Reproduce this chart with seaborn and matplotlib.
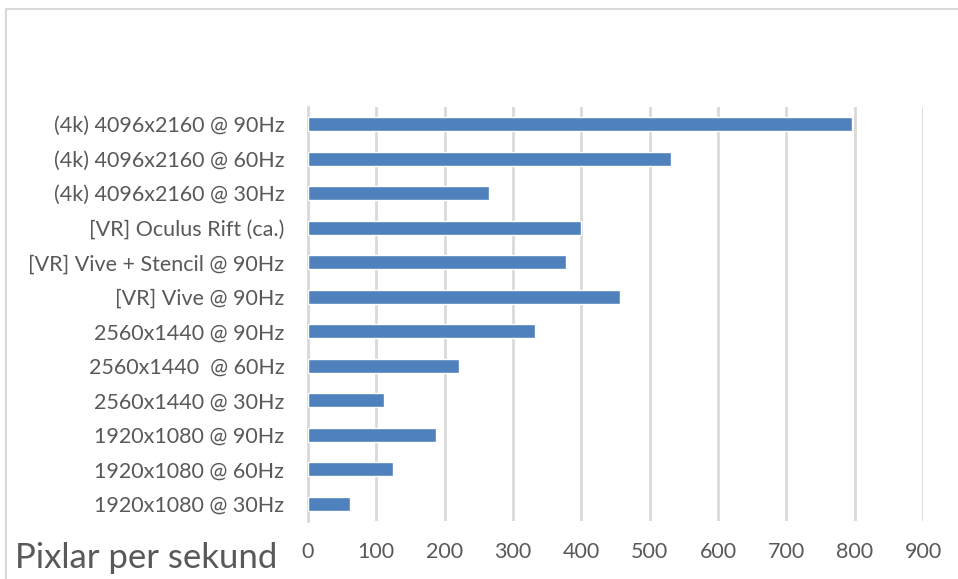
"""Pixel throughput per display mode, horizontal bar chart."""

import matplotlib
matplotlib.use("Agg")
import matplotlib.pyplot as plt
from matplotlib.patches import Rectangle
import pandas as pd
import seaborn as sns

# Modes listed top to bottom as in the chart
modes = [
    "(4k) 4096x2160 @ 90Hz",
    "(4k) 4096x2160 @ 60Hz",
    "(4k) 4096x2160 @ 30Hz",
    "[VR] Oculus Rift (ca.)",
    "[VR] Vive + Stencil @ 90Hz",
    "[VR] Vive @ 90Hz",
    "2560x1440 @ 90Hz",
    "2560x1440  @ 60Hz",
    "2560x1440 @ 30Hz",
    "1920x1080 @ 90Hz",
    "1920x1080 @ 60Hz",
    "1920x1080 @ 30Hz",
]
# million pixels per second
pixels = [796, 531, 265, 400, 378, 457, 332, 221, 111, 187, 124, 62]
x_ticks = [0, 100, 200, 300, 400, 500, 600, 700, 800, 900]

BAR = "#4f81bd"
GRID = "#d9d9d9"
TEXT = "#595959"


def main() -> None:
    sns.set_theme(style="white")
    plt.rcParams["font.family"] = ["Lato", "DejaVu Sans"]

    df = pd.DataFrame({"mode": modes, "pixels": pixels})

    fig = plt.figure(figsize=(9.58, 5.79), dpi=100)
    ax = fig.add_axes([308 / 958, 1 - 521 / 579, 615 / 958, 414 / 579])
    sns.barplot(data=df, y="mode", x="pixels", order=modes, color=BAR,
                saturation=1, width=0.4, ax=ax, zorder=3)

    ax.set_xlim(0, 900)
    ax.set_xticks(x_ticks)
    ax.grid(axis="x", color=GRID, linewidth=2, zorder=0)
    for side in ["top", "right", "bottom"]:
        ax.spines[side].set_visible(False)
    ax.spines["left"].set_color(GRID)
    ax.spines["left"].set_linewidth(2)
    ax.tick_params(axis="both", length=0, colors=TEXT, labelsize=15.5)
    ax.tick_params(axis="x", pad=15)
    ax.tick_params(axis="y", pad=17)
    ax.set_xlabel("")
    ax.set_ylabel("")

    fig.text(15 / 958, 1 - 568 / 579, "Pixlar per sekund", fontsize=25,
             color=TEXT, ha="left", va="baseline")

    # light chart-area border, cut off at the right and bottom edges
    fig.patches.append(Rectangle((5.5 / 958, -0.05), 1.1, 1.05 - 8.5 / 579,
                                 transform=fig.transFigure, fill=False,
                                 edgecolor=GRID, linewidth=1.5))

    fig.savefig("out.png", dpi=100)
    plt.close(fig)


if __name__ == "__main__":
    main()
